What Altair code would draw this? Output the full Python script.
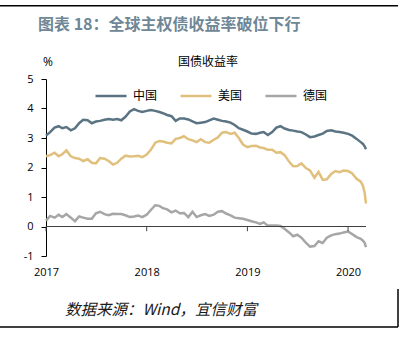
import altair as alt
import pandas as pd

# half-month grid 2017-01-01 .. 2020-02-16, then late Feb/Mar 2020 points
dates = []
for k in range(76):
    y = 2017 + k // 24
    m = (k % 24) // 2 + 1
    d = 1 if k % 2 == 0 else 16
    dates.append(f"{y}-{m:02d}-{d:02d}")
dates += ["2020-02-24", "2020-03-01", "2020-03-06"]

china = [
    3.08, 3.20, 3.35, 3.40, 3.33, 3.37, 3.26, 3.33, 3.50, 3.62,
    3.60, 3.50, 3.56, 3.58, 3.62, 3.64, 3.62, 3.64, 3.60, 3.72,
    3.90, 3.98, 3.92, 3.88, 3.92, 3.95, 3.92, 3.88, 3.84, 3.78,
    3.74, 3.58, 3.66, 3.66, 3.63, 3.56, 3.50, 3.52, 3.54, 3.60,
    3.66, 3.62, 3.58, 3.56, 3.52, 3.44, 3.33, 3.28, 3.22, 3.15,
    3.14, 3.18, 3.20, 3.10, 3.20, 3.35, 3.40, 3.32, 3.27, 3.25,
    3.22, 3.20, 3.12, 3.03, 3.05, 3.10, 3.15, 3.24, 3.26, 3.22,
    3.20, 3.18, 3.14, 3.08, 2.97, 2.86, 2.80, 2.72, 2.62,
]
us = [
    2.38, 2.42, 2.50, 2.38, 2.45, 2.58, 2.38, 2.32, 2.30, 2.22,
    2.28, 2.16, 2.14, 2.32, 2.30, 2.22, 2.10, 2.16, 2.30, 2.40,
    2.37, 2.38, 2.40, 2.35, 2.44, 2.60, 2.84, 2.90, 2.88, 2.84,
    2.82, 2.97, 3.00, 3.06, 2.96, 2.92, 2.86, 2.96, 2.86, 2.84,
    2.94, 3.02, 3.18, 3.20, 3.14, 3.18, 3.00, 2.78, 2.69, 2.73,
    2.74, 2.68, 2.66, 2.60, 2.60, 2.50, 2.52, 2.42, 2.20, 2.04,
    2.05, 2.14, 1.98, 1.90, 1.65, 1.85, 1.58, 1.60, 1.78, 1.88,
    1.84, 1.90, 1.88, 1.80, 1.62, 1.52, 1.38, 1.15, 0.78,
]
germany = [
    0.20, 0.36, 0.30, 0.40, 0.32, 0.42, 0.30, 0.18, 0.34, 0.30,
    0.26, 0.26, 0.45, 0.50, 0.42, 0.38, 0.43, 0.42, 0.42, 0.38,
    0.32, 0.34, 0.37, 0.32, 0.40, 0.56, 0.72, 0.70, 0.62, 0.58,
    0.48, 0.54, 0.45, 0.46, 0.32, 0.50, 0.32, 0.38, 0.42, 0.36,
    0.40, 0.50, 0.52, 0.44, 0.38, 0.30, 0.28, 0.26, 0.22, 0.18,
    0.14, 0.09, 0.14, 0.03, 0.03, 0.03, 0.02, -0.08, -0.20, -0.33,
    -0.28, -0.38, -0.55, -0.68, -0.66, -0.50, -0.56, -0.38, -0.30, -0.26,
    -0.24, -0.20, -0.17, -0.26, -0.36, -0.42, -0.48, -0.55, -0.70,
]

series_names = ["中国", "美国", "德国"]
series_colors = ["#5b7483", "#e0c07c", "#a6a6a6"]
year_ticks = ["2017-01-01", "2018-01-01", "2019-01-01", "2020-01-01"]
y_ticks = [-1, 0, 1, 2, 3, 4, 5]

header_text = "图表 18：全球主权债收益率破位下行"
chart_title = "国债收益率"
unit_text = "%"
source_text = "数据来源：Wind，宜信财富"

rows = []
for name, vals in zip(series_names, [china, us, germany]):
    for d, v in zip(dates, vals):
        rows.append({"date": d, "value": v, "series": name})
df = pd.DataFrame(rows)

CJK = "Noto Sans CJK SC"
x_scale = alt.Scale(domain=["2017-01-01", "2020-03-06"])
y_scale = alt.Scale(domain=[-1, 5], nice=False)

x_axis = alt.Axis(values=year_ticks, format="%Y", title=None, grid=False,
                  domain=False, ticks=False, labelPadding=10,
                  labelFlush=False, labelOverlap=False,
                  labelFontSize=11, labelColor="#000000", labelFont="Open Sans")
y_axis = alt.Axis(values=y_ticks, title=None, grid=False,
                  domainColor="#000000", tickColor="#000000",
                  tickSize=5, labelPadding=8, labelFontSize=11,
                  labelOverlap=False, labelFlush=False,
                  labelExpr="'' + datum.value",
                  labelColor="#000000", labelFont="Open Sans")

# page frame (decoration)
top_rule = alt.Chart(pd.DataFrame({"frame": ["top"]})).mark_rect(
    color="#000000"
).encode(x=alt.value(-46), x2=alt.value(352), y=alt.value(-74), y2=alt.value(-72.5))
bottom_rule = alt.Chart(pd.DataFrame({"frame": ["bottom"]})).mark_rule(
    color="#000000", strokeWidth=1.5
).encode(x=alt.value(-46), x2=alt.value(352), y=alt.value(248))
right_rule = alt.Chart(pd.DataFrame({"frame": ["right"]})).mark_rule(
    color="#000000", strokeWidth=1.5
).encode(x=alt.value(352), y=alt.value(210), y2=alt.value(248))

lines = alt.Chart(df).mark_line(strokeWidth=2.5).encode(
    x=alt.X("date:T", scale=x_scale, axis=x_axis),
    y=alt.Y("value:Q", scale=y_scale, axis=y_axis),
    color=alt.Color("series:N",
                    scale=alt.Scale(domain=series_names, range=series_colors),
                    sort=series_names,
                    legend=alt.Legend(title=None, orient="none", legendX=48,
                                      legendY=0, direction="horizontal",
                                      symbolType="stroke", symbolSize=961,
                                      symbolStrokeWidth=2.5, labelFontSize=12,
                                      labelFont=CJK, labelColor="#000000",
                                      labelOffset=5, columnPadding=17,
                                      padding=0)),
    order=alt.Order("date:T"),
)

zero_df = pd.DataFrame({"value": [0]})
zero_line = alt.Chart(zero_df).mark_rule(color="#404040", strokeWidth=1).encode(
    y=alt.Y("value:Q", scale=y_scale, axis=y_axis)
)

tick_df = pd.DataFrame({"date": year_ticks, "value": [0] * 4, "y1": [-0.16] * 4})
x_ticks = alt.Chart(tick_df).mark_rule(color="#404040", strokeWidth=1).encode(
    x=alt.X("date:T", scale=x_scale, axis=x_axis),
    y=alt.Y("value:Q", scale=y_scale, axis=y_axis),
    y2="y1:Q",
)

def label(text, x, y, **kw):
    return alt.Chart(pd.DataFrame({"t": [text]})).mark_text(
        baseline="middle", **kw
    ).encode(text="t:N", x=alt.value(x), y=alt.value(y))

header = label(header_text, -8, -54, align="left", font=CJK, fontSize=16,
               fontWeight="bold", color="#6f8796")
title = label(chart_title, 162, -17, align="center", font=CJK, fontSize=12,
              color="#000000")
unit = label(unit_text, 2, -17, align="center", font="Open Sans", fontSize=12,
             color="#000000")
source = label(source_text, 19, 231, align="left", font=CJK, fontSize=15.5,
               fontStyle="italic", color="#1a1a1a")

chart = alt.layer(
    lines, zero_line, x_ticks, header, title, unit, source,
    bottom_rule, right_rule, top_rule,
).properties(
    width=320,
    height=177,
    padding={"left": 46, "top": 79, "right": 41, "bottom": 81},
    autosize=alt.AutoSizeParams(type="none"),
    background="#ffffff",
).configure_view(stroke=None)

chart.save("out.html", embed_options={"renderer": "svg", "actions": False})
